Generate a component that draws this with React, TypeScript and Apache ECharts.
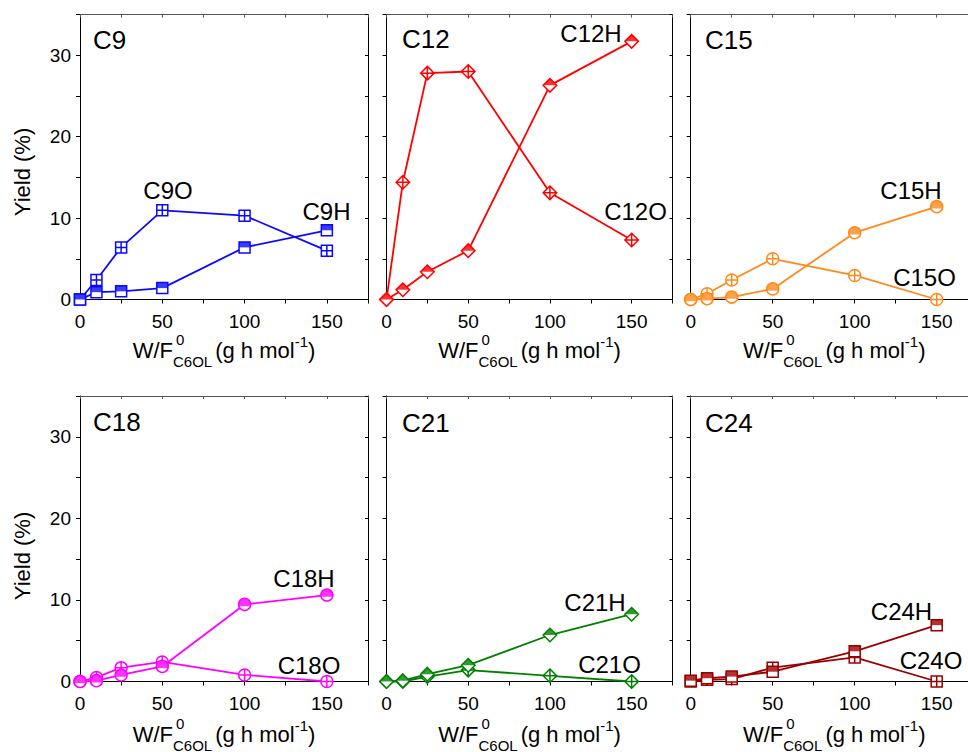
import React, { useEffect, useRef } from "react";
import * as echarts from "echarts";

// ---------------- data ----------------
const xValues = [0, 10, 25, 50, 100, 150];

const c9H = [0, 0.9, 1.0, 1.4, 6.4, 8.5];
const c9O = [0, 2.4, 6.4, 10.95, 10.3, 6.0];
const c12H = [0, 1.2, 3.4, 6.0, 26.3, 31.7];
const c12O = [0, 14.4, 27.8, 28.0, 13.1, 7.3];
const c15H = [0, 0.1, 0.3, 1.3, 8.2, 11.4];
const c15O = [0, 0.7, 2.4, 5.0, 2.95, 0];
const c18H = [0, 0.1, 0.8, 1.85, 9.45, 10.6];
const c18O = [0, 0.5, 1.7, 2.4, 0.8, 0];
const c21H = [0, 0.1, 0.9, 2.0, 5.7, 8.25];
const c21O = [0, 0, 0.6, 1.4, 0.7, 0];
const c24H = [0.1, 0.4, 0.6, 1.2, 3.7, 6.9];
const c24O = [0, 0.2, 0.3, 1.7, 2.95, 0];

const xTickLabels = [0, 50, 100, 150];
const yTickLabels = [0, 10, 20, 30];

const panelNames = ["C9", "C12", "C15", "C18", "C21", "C24"];
const hNames = ["C9H", "C12H", "C15H", "C18H", "C21H", "C24H"];
const oNames = ["C9O", "C12O", "C15O", "C18O", "C21O", "C24O"];
const hSeries = [c9H, c12H, c15H, c18H, c21H, c24H];
const oSeries = [c9O, c12O, c15O, c18O, c21O, c24O];

// ---------------- styles / layout ----------------
const FONT = "'Liberation Sans', Arial, Helvetica, sans-serif";
const colors = ["#0a0aff", "#ff0000", "#ff8a1c", "#ff00ff", "#008000", "#9b0000"];
const shapes = ["square", "diamond", "circle", "circle", "diamond", "square"];

const cols = [
  { left: 80, width: 288 },
  { left: 386.5, width: 286 },
  { left: 690.7, width: 287 },
];
const rows = [
  { top: 14.5, height: 285, titleY: 350, yTitleY: 172 },
  { top: 396, height: 285.5, titleY: 734, yTitleY: 556 },
];

// label placements (center x, middle y)
const panelLabelPos = [
  [93, 40], [402, 39], [705, 40],
  [93, 422], [402, 423], [705, 423],
];
const hLabelPos = [
  [326.5, 211.5], [591, 33], [911, 190.5],
  [304, 578], [595, 602], [901.5, 611],
];
const oLabelPos = [
  [168, 190.5], [635.5, 211.5], [924.5, 277.5],
  [309, 665], [609.5, 664.5], [931, 660],
];

const SYM_O: Record<string, string> = {
  square: "path://M0,0L10,0L10,10L0,10Z M5,0L5,10 M0,5L10,5",
  diamond: "path://M5,0L10,5L5,10L0,5Z M5,0L5,10 M0,5L10,5",
  circle:
    "path://M0,5A5,5 0 1 1 10,5A5,5 0 1 1 0,5Z M5,0L5,10 M0,5L10,5",
};
const SYM_H: Record<string, string> = {
  square: "path://M0,0L10,0L10,10L0,10Z",
  diamond: "path://M5,0L10,5L5,10L0,5Z",
  circle: "circle",
};
const SIZE: Record<string, number> = { square: 11, diamond: 13.5, circle: 12 };

function halfFill(shape: string) {
  const s = SIZE[shape];
  if (shape === "square") {
    return { symbol: "rect", symbolSize: [s, s / 2], symbolOffset: [0, -s / 4] };
  }
  if (shape === "diamond") {
    return { symbol: "triangle", symbolSize: [s, s / 2], symbolOffset: [0, -s / 4] };
  }
  return {
    symbol: "path://M0.23,6.5A5,5 0 1 1 9.77,6.5Z",
    symbolSize: [s, s * 0.65],
    symbolOffset: [0, -s * 0.175],
  };
}

let measureCtx: CanvasRenderingContext2D | null = null;
function measure(text: string, size: number) {
  if (!measureCtx) {
    const c = document.createElement("canvas");
    measureCtx = c.getContext("2d");
  }
  if (!measureCtx) return text.length * size * 0.55;
  measureCtx.font = `${size}px ${FONT}`;
  return measureCtx.measureText(text).width;
}

function txt(text: string, x: number, y: number, size: number, align = "left", extra: any = {}) {
  return {
    type: "text",
    x,
    y,
    silent: true,
    ...extra,
    style: {
      text,
      fill: "#000",
      fontSize: size,
      fontFamily: FONT,
      textAlign: align,
      textVerticalAlign: "middle",
      align,
      verticalAlign: "middle",
    },
  };
}

function buildOption() {
  const grid: any[] = [];
  const xAxis: any[] = [];
  const yAxis: any[] = [];
  const series: any[] = [];
  const graphic: any[] = [];

  for (let p = 0; p < 6; p++) {
    const r = rows[Math.floor(p / 3)];
    const c = cols[p % 3];
    grid.push({ left: c.left, top: r.top, width: c.width, height: r.height, containLabel: false });

    const lineStyle = { color: "#000", width: 1 };
    xAxis.push({
      gridIndex: p,
      type: "value",
      position: "bottom",
      min: 0,
      max: 175,
      interval: 25,
      axisLine: { show: true, onZero: false, lineStyle },
      axisTick: { show: true, inside: false, length: 4, lineStyle },
      axisLabel: {
        show: true,
        margin: 12,
        fontSize: 19,
        fontFamily: FONT,
        color: "#000",
        formatter: (v: number) => (xTickLabels.includes(v) ? String(v) : ""),
      },
      splitLine: { show: false },
    });
    xAxis.push({
      gridIndex: p,
      type: "value",
      position: "top",
      min: 0,
      max: 175,
      interval: 25,
      axisLine: { show: true, onZero: false, lineStyle: { color: "#555", width: 1 } },
      axisTick: { show: true, inside: true, length: 3, lineStyle: { color: "#555" } },
      axisLabel: { show: false },
      splitLine: { show: false },
    });
    yAxis.push({
      gridIndex: p,
      type: "value",
      position: "left",
      min: 0,
      max: 35,
      interval: 5,
      axisLine: { show: true, onZero: false, lineStyle },
      axisTick: { show: true, inside: false, length: 4, lineStyle },
      axisLabel: {
        show: p % 3 === 0,
        margin: 9,
        fontSize: 19,
        fontFamily: FONT,
        color: "#000",
        formatter: (v: number) => (yTickLabels.includes(v) ? String(v) : ""),
      },
      splitLine: { show: false },
    });
    yAxis.push({
      gridIndex: p,
      type: "value",
      position: "right",
      min: 0,
      max: 35,
      interval: 5,
      axisLine: { show: true, onZero: false, lineStyle },
      axisTick: { show: true, inside: true, length: 3, lineStyle },
      axisLabel: { show: false },
      splitLine: { show: false },
    });

    const color = colors[p];
    const shape = shapes[p];
    const size = SIZE[shape];
    const oData = xValues.map((x, i) => [x, oSeries[p][i]]);
    const hData = xValues.map((x, i) => [x, hSeries[p][i]]);
    const common = {
      type: "line",
      xAxisIndex: 2 * p,
      yAxisIndex: 2 * p,
      clip: false,
      symbolSize: size,
      showAllSymbol: true,
      lineStyle: { color, width: 1.8 },
      itemStyle: { color: "#fff", borderColor: color, borderWidth: 1.5 },
      emphasis: { disabled: true },
      z: 2,
    };
    series.push({ ...common, name: oNames[p], symbol: SYM_O[shape], data: oData });
    series.push({ ...common, name: hNames[p], symbol: SYM_H[shape], data: hData });
    series.push({
      type: "scatter",
      name: hNames[p] + "-fill",
      xAxisIndex: 2 * p,
      yAxisIndex: 2 * p,
      clip: false,
      silent: true,
      ...halfFill(shape),
      itemStyle: { color, borderWidth: 0 },
      emphasis: { disabled: true },
      data: hData,
      z: 3,
    });

    // texts
    graphic.push(txt(panelNames[p], panelLabelPos[p][0], panelLabelPos[p][1], 26, "left"));
    graphic.push(txt(hNames[p], hLabelPos[p][0], hLabelPos[p][1], 24, "center"));
    graphic.push(txt(oNames[p], oLabelPos[p][0], oLabelPos[p][1], 24, "center"));

    // x axis title: W/F^0_C6OL (g h mol^-1)
    const main = 22;
    const small = 15;
    const wWF = measure("W/F", main);
    const wSub = measure("C6OL", small);
    const wOpen = measure("(g h mol", main);
    const wSup = measure("-1", small);
    const wClose = measure(")", main);
    const total = wWF + wSub + 3 + wOpen + wSup + wClose;
    const cx = c.left + c.width / 2;
    const cy = r.titleY;
    const x = cx - total / 2;
    graphic.push(txt("W/F", x, cy, main));
    const x1 = x + wWF;
    graphic.push(txt("0", x1 + 3, cy - 11, small));
    graphic.push(txt("C6OL", x1, cy + 11, small));
    let x2 = x1 + wSub + 3;
    graphic.push(txt("(g h mol", x2, cy, main));
    x2 += wOpen;
    graphic.push(txt("-1", x2, cy - 9, small));
    x2 += wSup;
    graphic.push(txt(")", x2, cy, main));
  }

  for (const r of rows) {
    graphic.push(txt("Yield (%)", 22, r.yTitleY, 22, "center", { rotation: Math.PI / 2 }));
  }

  return {
    animation: false,
    backgroundColor: "#fff",
    textStyle: { fontFamily: FONT },
    grid,
    xAxis,
    yAxis,
    series,
    graphic: { elements: graphic },
  };
}

export default function App() {
  const ref = useRef<HTMLDivElement | null>(null);
  useEffect(() => {
    if (!ref.current) return;
    const chart = echarts.init(ref.current, null, { renderer: "svg" });
    chart.setOption(buildOption() as any);
    return () => chart.dispose();
  }, []);
  return (
    <div
      style={{
        position: "fixed",
        left: 0,
        top: 0,
        width: 968,
        height: 752,
        overflow: "hidden",
        background: "#fff",
      }}
    >
      <div ref={ref} style={{ width: 990, height: 752 }} />
    </div>
  );
}
